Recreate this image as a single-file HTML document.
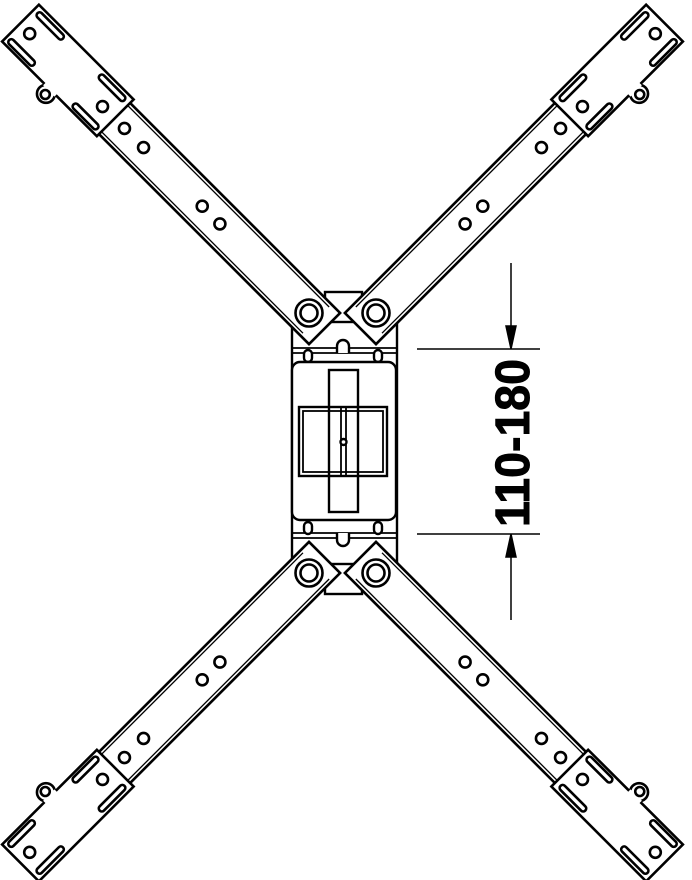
<!DOCTYPE html>
<html><head><meta charset="utf-8"><style>html,body{margin:0;padding:0;background:#fff}svg{display:block}</style></head>
<body>
<svg width="692" height="880" viewBox="0 0 692 880" xmlns="http://www.w3.org/2000/svg">
<defs>
<g id="arm" fill="#fff" stroke="#000" stroke-width="2.6">
  <rect x="-22" y="-22" width="310" height="44"/>
  <line x1="-10" y1="-18.5" x2="288" y2="-18.5" stroke-width="1.3"/>
  <line x1="-10" y1="18.5" x2="288" y2="18.5" stroke-width="1.3"/>
  <circle cx="261" cy="0" r="5.5"/><circle cx="234" cy="0" r="5.5"/>
  <circle cx="151" cy="0" r="5.5"/><circle cx="126" cy="0" r="5.5"/>
  <circle cx="341" cy="-31" r="9"/>
  <path d="M275,-25 L409,-25 L409,27 L275,27 Z"/>
  <rect x="333" y="-27" width="16" height="4" stroke="none"/>
  <circle cx="341" cy="-32" r="4.5"/>
  <rect x="368" y="17" width="36" height="6" rx="3"/>
  <rect x="370" y="-22" width="35" height="6" rx="3"/>
  <rect x="281" y="17" width="35" height="6" rx="3"/>
  <rect x="280" y="-22" width="34" height="6" rx="3"/>
  <circle cx="395" cy="0" r="5.5"/><circle cx="292" cy="0" r="5.5"/>
  <circle cx="0" cy="0" r="13.5"/><circle cx="0" cy="0" r="8.5"/>
</g>
<g id="tl"><use href="#arm" transform="translate(309,313) rotate(225)"/></g>
</defs>

<g fill="#fff" stroke="#000" stroke-width="2.4">
  <rect x="325" y="292" width="37" height="302"/>
  <rect x="292" y="322" width="105" height="242"/>
  <line x1="292" y1="348" x2="397" y2="348" stroke-width="1.8"/>
  <line x1="292" y1="353" x2="397" y2="353" stroke-width="1.8"/>
  <line x1="292" y1="533" x2="397" y2="533" stroke-width="1.8"/>
  <line x1="292" y1="538" x2="397" y2="538" stroke-width="1.8"/>
  <rect x="304" y="350" width="8" height="12" rx="4"/>
  <rect x="374" y="350" width="8" height="12" rx="4"/>
  <rect x="304" y="522" width="8" height="12" rx="4"/>
  <rect x="374" y="522" width="8" height="12" rx="4"/>
  <path d="M337,353 L337,346 A6,6 0 0 1 349,346 L349,353"/>
  <path d="M337,533 L337,540 A6,6 0 0 0 349,540 L349,533"/>
  <rect x="292" y="362" width="104" height="158" rx="8"/>
  <rect x="329" y="370" width="29" height="142"/>
  <rect x="299" y="407" width="88" height="69"/>
  <rect x="303" y="411" width="80" height="61" stroke-width="1.8"/>
  <line x1="329" y1="407" x2="329" y2="476"/>
  <line x1="358" y1="407" x2="358" y2="476"/>
  <line x1="341" y1="407" x2="341" y2="476" stroke-width="1.8"/>
  <line x1="346" y1="407" x2="346" y2="476" stroke-width="1.8"/>
  <circle cx="343.5" cy="442" r="3"/>
</g>

<use href="#tl"/>
<use href="#tl" transform="translate(685,0) scale(-1,1)"/>
<use href="#tl" transform="rotate(180,342.5,443)"/>
<use href="#tl" transform="translate(0,886) scale(1,-1)"/>

<g stroke="#000" stroke-width="1.5" fill="#000">
  <line x1="417" y1="349" x2="540" y2="349"/>
  <line x1="417" y1="534" x2="540" y2="534"/>
  <line x1="511" y1="263" x2="511" y2="330"/>
  <path d="M506,326 L516,326 L511,349 Z"/>
  <line x1="511" y1="553" x2="511" y2="620"/>
  <path d="M506,557 L516,557 L511,534 Z"/>
</g>
<text x="0" y="0" transform="translate(529,443) rotate(-90)" text-anchor="middle" font-family="Liberation Sans, sans-serif" font-weight="bold" font-size="48" textLength="168" lengthAdjust="spacingAndGlyphs" stroke="#000" stroke-width="1">110-180</text>
</svg>
</body></html>
